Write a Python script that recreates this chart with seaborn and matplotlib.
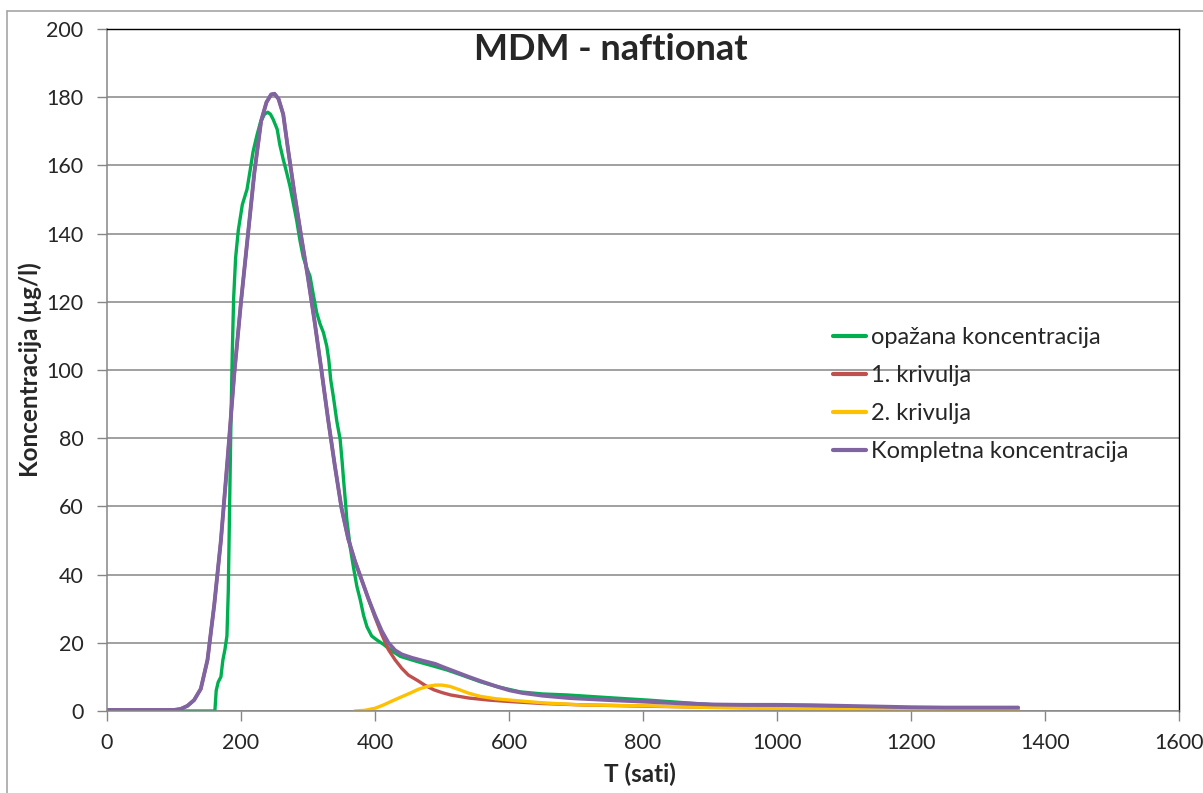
import numpy as np
import pandas as pd
import matplotlib
matplotlib.use("Agg")
import matplotlib.pyplot as plt
from matplotlib.lines import Line2D
import seaborn as sns

# podaci ocitani sa slike
t_opazana = [0, 161, 163, 166, 170, 173, 176, 179, 181, 183, 185, 187, 189, 192, 196, 202, 209, 214, 218,
             224, 229, 235, 240, 244, 248, 254, 258, 263, 268, 273, 283, 288, 293, 298, 303, 308, 313,
             318, 323, 328, 331, 334, 338, 343, 348, 351, 353, 356, 358, 363, 368, 373, 378, 383, 388,
             395, 403, 413, 423, 438, 463, 485, 508, 530, 557, 585, 617, 650, 687, 750, 807, 850, 906,
             950, 1006, 1100, 1200, 1300, 1360]
c_opazana = [0, 0, 6, 8.5, 10, 15, 18, 22, 35, 60, 85, 105, 121, 133, 141, 148.5, 153, 159, 164,
             169, 172.6, 175, 175.6, 175, 173.5, 170.6, 166, 161.8, 158, 154, 144, 138, 133, 130, 127.5, 122, 116.8,
             113.5, 111, 107, 103, 97, 92, 85, 79.6, 73, 68, 61, 56, 48, 42, 36.5, 32.6, 28, 24.7,
             22, 20.8, 19.5, 17.9, 16, 14.5, 13.3, 12, 10.5, 8.6, 7, 5.6, 5, 4.7, 3.9, 3.2, 2.6, 1.8,
             1.5, 1.2, 0.8, 0.5, 0.2, 0]

t_komp = [0, 100, 110, 120, 130, 140, 150, 160, 170, 180, 190, 200, 210, 220, 230, 238, 245, 250, 256,
          263, 270, 280, 290, 300, 310, 320, 330, 340, 350, 360, 370, 380, 390, 400, 410, 420, 430, 440,
          455, 470, 490, 500, 520, 540, 560, 580, 600, 620, 650, 690, 750, 807, 850, 906, 950, 1000,
          1050, 1100, 1150, 1200, 1250, 1300, 1360]
c_komp = [0.3, 0.3, 0.6, 1.5, 3.2, 6.5, 15, 31, 50, 74, 99, 120, 139, 158, 173, 178.5, 180.8, 181, 179.5,
          175, 165, 151.5, 139, 127, 114, 100, 85.5, 72, 59.5, 50.5, 44, 38.5, 33, 28, 23.5, 20, 17.8, 16.6,
          15.6, 14.8, 13.8, 13, 11.5, 10, 8.6, 7.3, 6.1, 5.3, 4.5, 3.8, 3.2, 2.7, 2.3, 1.9, 1.8, 1.8,
          1.7, 1.5, 1.3, 1.1, 1.0, 1.0, 1.0]

t_kriv1 = [0, 100, 110, 120, 130, 140, 150, 160, 170, 180, 190, 200, 210, 220, 230, 238, 245, 250, 256,
           263, 270, 280, 290, 300, 310, 320, 330, 340, 350, 360, 370, 380, 390, 400, 410, 420, 430, 440,
           450, 463, 475, 488, 500, 513, 540, 570, 607, 650, 707, 807, 906, 1000, 1100, 1200, 1360]
c_kriv1 = [0.3, 0.3, 0.6, 1.5, 3.2, 6.5, 15, 31, 50, 74, 99, 120, 139, 158, 173, 178.5, 180.8, 181, 179.5,
           175, 165, 151.5, 139, 127, 114, 100, 85.5, 72, 59.5, 50.5, 44, 38.5, 33, 27.5, 22.5, 18, 15, 12.5,
           10.5, 9, 7.5, 6.2, 5.4, 4.7, 3.8, 3.2, 2.7, 2.2, 1.8, 1.4, 1.1, 0.9, 0.7, 0.5, 0.3]

t_kriv2 = [370, 385, 400, 413, 425, 440, 453, 465, 478, 490, 500, 512, 525, 540, 557, 580, 607, 650,
           707, 807, 906, 1006, 1100, 1200, 1360]
c_kriv2 = [0, 0.2, 0.8, 1.8, 2.9, 4.2, 5.3, 6.4, 7.2, 7.6, 7.6, 7.2, 6.3, 5.2, 4.3, 3.6, 3.1, 2.4,
           1.8, 1.5, 1.0, 0.7, 0.5, 0.3, 0.2]

naslov = 'MDM - naftionat'
oznake = ['opažana koncentracija', '1. krivulja', '2. krivulja', 'Kompletna koncentracija']
boje = ['#00B050', '#C0504D', '#FFC000', '#8064A2']

sns.set_style("white")
plt.rcParams['font.family'] = ['Lato', 'DejaVu Sans']

fig = plt.figure(figsize=(12.03, 7.93), dpi=100)
ax = fig.add_axes([107/1203, 1-711/793, (1179-107)/1203, (711-29)/793])

serije = [(t_opazana, c_opazana, 2.4), (t_kriv1, c_kriv1, 2.4), (t_kriv2, c_kriv2, 2.4), (t_komp, c_komp, 2.8)]
for (t, c, lw), lab, col in zip(serije, oznake, boje):
    df = pd.DataFrame({'T': t, 'C': c})
    sns.lineplot(data=df, x='T', y='C', ax=ax, color=col, linewidth=lw, label=lab,
                 estimator=None, sort=False, solid_joinstyle='round')

ax.set_xlim(0, 1600)
ax.set_ylim(0, 200)
ax.set_xticks(np.arange(0, 1601, 200))
ax.set_yticks(np.arange(0, 201, 20))
ax.yaxis.grid(True, color='#868686', linewidth=1.1)
ax.set_axisbelow(True)
ax.tick_params(axis='both', direction='out', length=7, width=1, color='#868686',
               labelsize=15.5, left=True, bottom=True)
ax.tick_params(axis='x', pad=9)
ax.tick_params(axis='y', pad=10)
for s in ['left', 'bottom']:
    ax.spines[s].set_color('#868686')
    ax.spines[s].set_linewidth(1.1)
for s in ['top', 'right']:
    ax.spines[s].set_color('black')
    ax.spines[s].set_linewidth(1.0)

ax.set_xlabel('T (sati)', fontsize=17.5, fontweight='bold')
ax.set_ylabel('Koncentracija (µg/l)', fontsize=17.5, fontweight='bold')
ax.xaxis.set_label_coords((640-107)/(1179-107), -(763-711)/(711-29))
ax.yaxis.set_label_coords(-(107-42)/(1179-107), (711-370)/(711-29))

fig.text(611/1203, 1-50/793, naslov, ha='center', va='center', fontsize=26, fontweight='bold')

leg = ax.legend(loc='upper left', bbox_to_anchor=(833/1203, 1-327/793), bbox_transform=fig.transFigure,
                frameon=False, fontsize=17, handlelength=1.4, handletextpad=0.2,
                labelspacing=0.72, borderpad=0, borderaxespad=0)
for h in leg.get_lines():
    h.set_linewidth(3)

# vanjski okvir grafikona
fig.add_artist(Line2D([7/1203, 7/1203], [0, 1-11/793], color='#A6A6A6', linewidth=1.2, transform=fig.transFigure))
fig.add_artist(Line2D([7/1203, 1], [1-11/793, 1-11/793], color='#A6A6A6', linewidth=1.2, transform=fig.transFigure))

fig.savefig('out.png', dpi=100)
